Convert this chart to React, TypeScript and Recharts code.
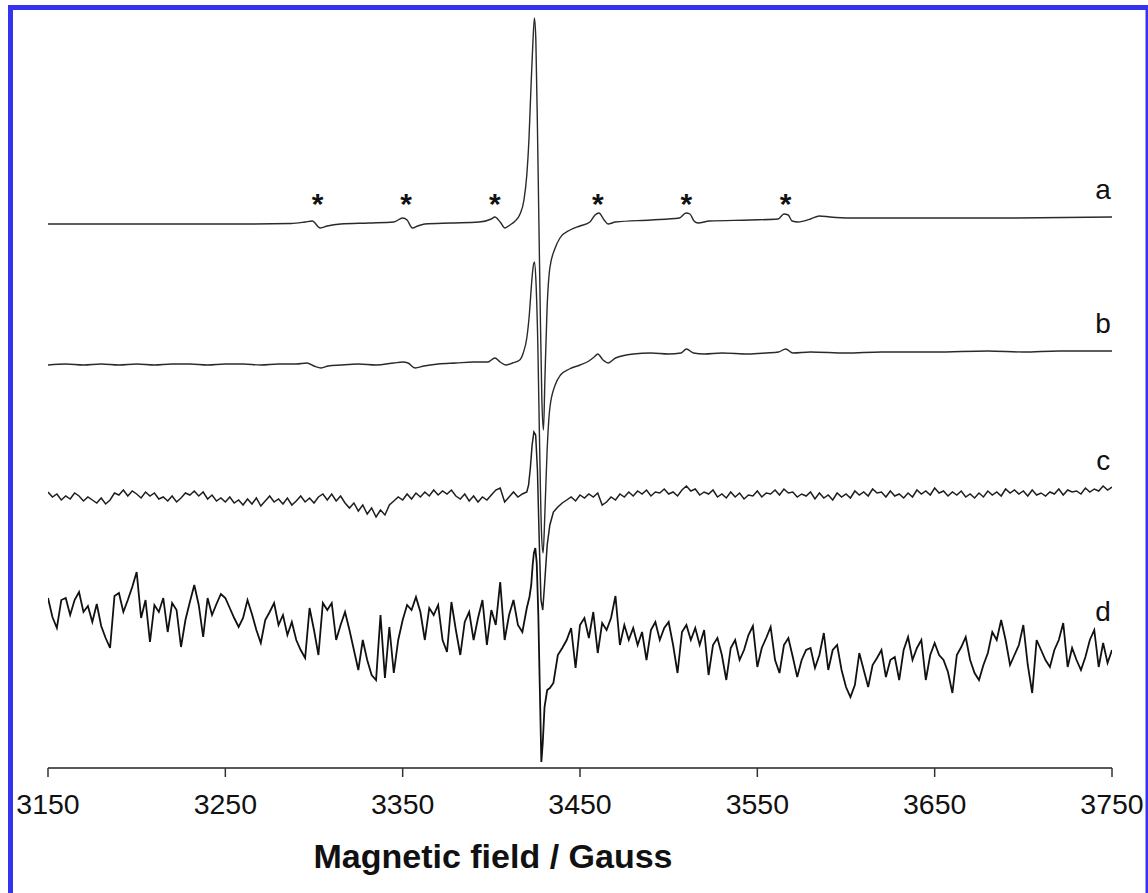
import React from 'react';
import { LineChart, Line, XAxis, YAxis, ReferenceDot } from 'recharts';

// field sampling for the noisy traces (c, d): 2.5 G steps, centre line listed separately
const FIELD_START = 3150;
const RIGHT_START = 3437.5;
const FIELD_STEP = 2.5;

// vertical stacking offsets of the four spectra
const OFFSETS = { a: 544, b: 405, c: 273, d: 143 };

// trace a: [field, intensity]
const traceA: [number, number][] = [
  [3150, 0], [3180, 0], [3210, 0], [3240, 0], [3265, 0], [3287, 0.5], [3295, 2], [3299, 3],
  [3303.5, -4], [3307.5, -2], [3315, 0], [3331, 1], [3345, 2], [3350, 6], [3352.5, 4],
  [3355.5, -4], [3358.5, -2], [3362.5, 0], [3377, 1], [3393, 2], [3400, 5], [3402, 7],
  [3405, 2], [3407.7, -4], [3410.5, -1], [3413.4, 3], [3416.2, 10], [3418.4, 24], [3420, 49],
  [3421.2, 84], [3422.3, 134], [3423.5, 184], [3424.3, 206], [3425.1, 184], [3426.2, 74],
  [3427.4, -66], [3428.5, -176], [3429.4, -206], [3430.2, -156], [3431.4, -86], [3433, -44],
  [3436, -24], [3438.7, -14], [3444.4, -6], [3450, -2], [3455.6, 2], [3458.5, 9], [3460.7, 11],
  [3463.6, 4], [3465.8, 0], [3470, 2], [3490, 4], [3506, 6], [3509.8, 11], [3512, 10],
  [3514.3, 3], [3516.6, 1], [3523, 3], [3546, 4], [3561.7, 5], [3565, 10], [3567.4, 9],
  [3569.6, 3], [3573, 2], [3580, 5], [3585, 8], [3591, 7], [3602, 6], [3630, 6], [3690, 6],
  [3750, 7],
];

// trace b: [field, intensity]
const traceB: [number, number][] = [
  [3150, -2], [3160, -1], [3170, -2], [3180, -1], [3190, -2], [3200, -1], [3210, -2],
  [3220, -1], [3230, -1], [3240, -2], [3250, -1], [3260, -1], [3270, -2], [3280, -1],
  [3290, -1], [3296, 0], [3300, -3], [3304, -5], [3308, -3], [3315, -2], [3325, -1],
  [3335, -2], [3345, 0], [3350, 1], [3353, 0], [3357, -5], [3362, -3], [3370, -1], [3380, 0],
  [3390, 1], [3398, 1], [3402, 5], [3405, 1], [3408, -2], [3412, 0], [3416, 3], [3418, 10],
  [3420, 25], [3421.5, 50], [3422.5, 75], [3423.5, 95], [3424.3, 101], [3425.2, 80],
  [3426.2, 20], [3427.2, -80], [3428.3, -170], [3429.2, -190], [3430.2, -150], [3431.4, -90],
  [3433, -45], [3436, -22], [3439, -12], [3444, -6], [3450, -2], [3455, 2], [3458, 6],
  [3460, 9], [3463, 3], [3466, 0], [3470, 5], [3480, 9], [3490, 10], [3500, 9], [3507, 10],
  [3510, 14], [3514, 10], [3520, 9], [3530, 10], [3545, 9], [3555, 10], [3562, 11], [3566, 14],
  [3570, 10], [3580, 11], [3600, 10], [3620, 11], [3650, 11], [3680, 12], [3700, 11],
  [3720, 12], [3750, 12],
];

// trace c
const cLeft = [
  3, -2, 1, -5, -1, -4, 2, -1, -6, -2,
  -5, -8, -3, -9, -5, 2, 0, 5, -1, 4,
  1, -3, 3, -1, 2, -4, -2, -6, -1, -7,
  -3, 2, 0, 4, -1, 3, -4, 0, -6, -3,
  -7, -2, -8, -5, -10, -4, -9, -3, -11, -6,
  -1, -7, -4, -9, -3, -10, -6, -1, -7, -3,
  -8, -2, 1, -5, 1, -6, -1, -8, -13, -8,
  -16, -10, -19, -13, -22, -15, -20, -10, -6, -2,
  -5, 1, -4, 2, -2, 3, -1, 5, 0, 4,
  1, 5, -1, -4, 1, -6, -1, -7, -2, -5,
  0, 5, 7, -7, -2, 3, -2, 1, 3,
];
const cCenter: [number, number][] = [
  [3421, 10], [3422, 27], [3423, 50], [3424, 63], [3425, 60], [3426, 25], [3427, -45],
  [3428, -105], [3429, -115], [3430, -90], [3431.5, -50], [3433, -30], [3435, -17],
];
const cRight = [
  -12, -8, -5, -2, -6, 0, -3, 1, -2, 2,
  -10, -7, -2, -5, 1, -2, 3, -1, 4, 1,
  5, -1, 3, 2, 6, 1, 3, -1, 5, 9,
  4, 6, 0, 3, 1, 5, -2, 1, -3, 3,
  -2, 2, -4, 0, -1, 4, -2, 2, 1, 5,
  0, 6, 2, 3, -2, 1, -1, 3, -4, 2,
  -3, 0, -5, 2, -2, 1, -3, 4, 0, 3,
  -1, 6, 2, 3, -2, 4, -1, 1, -3, 2,
  -2, 5, 1, 4, 0, 7, 2, 4, -1, 3,
  0, 4, -2, 1, -3, 2, -2, 4, 0, 3,
  -1, 6, 2, 5, 1, 4, -1, 5, 0, 2,
  -1, 3, 1, 6, 0, 5, 3, 4, 1, 7,
  3, 6, 4, 9, 5, 8,
];

// trace d
const dLeft = [
  27, 8, -3, 25, 27, 10, 25, 33, 13, 19,
  3, 21, -1, -13, -23, 29, 32, 13, 25, 38,
  53, 7, 25, -17, 20, 13, 27, -7, 22, 15,
  -22, 5, 23, 40, 20, -12, 27, 10, 21, 31,
  27, 17, 7, -2, 7, 25, 11, -5, -18, 5,
  13, 22, 0, 10, -10, 3, -15, -25, -33, 17,
  -5, -30, 22, 15, 22, -15, 0, 13, -5, -25,
  -45, -15, -35, -50, -55, 10, -53, -2, -48, -15,
  5, 20, 15, 28, 13, -15, 17, 10, 20, -15,
  -27, 23, -5, -30, 3, 13, -15, 7, 25, -20,
  15, 0, 43, -15, 10, 25, 0, -7, 17,
];
const dCenter: [number, number][] = [
  [3421.5, 28], [3422.5, 40], [3423.3, 60], [3424, 72], [3424.8, 77], [3425.6, 62],
  [3426.5, 10], [3427.3, -60], [3428.2, -137], [3429, -118], [3430, -82], [3431.5, -65],
  [3433, -63], [3435, -58],
];
const dRight = [
  -30, -23, -15, -3, -43, 0, 7, -13, 13, -28,
  2, -5, 7, 29, -20, 0, -15, -3, -20, -7,
  -35, -5, 3, -15, -3, 3, -20, -48, -7, 0,
  -15, -3, -20, -5, -50, -20, -13, -30, -55, -23,
  -15, -35, -25, -10, -1, -42, -23, -13, -2, -35,
  -48, -20, -13, -32, -52, -35, -25, -23, -43, -30,
  -8, -45, -25, -20, -45, -62, -72, -60, -28, -45,
  -62, -40, -33, -25, -52, -35, -32, -55, -25, -12,
  -35, -23, -15, -55, -30, -18, -30, -35, -47, -68,
  -30, -22, -12, -35, -48, -55, -40, -28, -7, -15,
  5, -15, -40, -30, -20, 0, -40, -68, -15, -25,
  -35, -42, -25, -15, 2, -42, -23, -35, -45, -32,
  -15, -5, -42, -18, -38, -25,
];

const xTicks = [3150, 3250, 3350, 3450, 3550, 3650, 3750];
const starFields = [3302, 3352, 3402, 3460, 3510, 3566];
const traceLabels = [
  { name: 'a', y: 579 },
  { name: 'b', y: 445 },
  { name: 'c', y: 308 },
  { name: 'd', y: 157 },
];

const FONT = '"Liberation Sans", Arial, sans-serif';

const fromPairs = (pairs: [number, number][], offset: number) =>
  pairs.map(([x, v]) => ({ x, v: v + offset }));

const fromGrid = (left: number[], center: [number, number][], right: number[], offset: number) => [
  ...left.map((v, i) => ({ x: FIELD_START + i * FIELD_STEP, v: v + offset })),
  ...fromPairs(center, offset),
  ...right.map((v, i) => ({ x: RIGHT_START + i * FIELD_STEP, v: v + offset })),
];

const dataA = fromPairs(traceA, OFFSETS.a);
const dataB = fromPairs(traceB, OFFSETS.b);
const dataC = fromGrid(cLeft, cCenter, cRight, OFFSETS.c);
const dataD = fromGrid(dLeft, dCenter, dRight, OFFSETS.d);

export default function App() {
  return (
    <div style={{ position: 'absolute', left: 0, top: 0, width: 1148, height: 893, background: '#fff', overflow: 'hidden' }}>
      <LineChart width={1148} height={893} margin={{ top: 15, right: 36, bottom: 65, left: 48 }}>
        <XAxis
          dataKey="x"
          type="number"
          domain={[3150, 3750]}
          ticks={xTicks}
          interval={0}
          allowDataOverflow
          height={60}
          tickSize={9}
          tickMargin={17}
          axisLine={{ stroke: '#222', strokeWidth: 1.4 }}
          tickLine={{ stroke: '#333', strokeWidth: 1.5 }}
          tick={{ fontSize: 28.5, fill: '#111', fontFamily: FONT }}
        />
        <YAxis type="number" domain={[0, 753]} hide allowDataOverflow />
        <Line data={dataA} dataKey="v" type="monotone" stroke="#2a2a2a" strokeWidth={1.4} dot={false} isAnimationActive={false} />
        <Line data={dataB} dataKey="v" type="monotone" stroke="#2a2a2a" strokeWidth={1.4} dot={false} isAnimationActive={false} />
        <Line data={dataC} dataKey="v" type="linear" stroke="#1e1e1e" strokeWidth={1.5} dot={false} isAnimationActive={false} />
        <Line data={dataD} dataKey="v" type="linear" stroke="#111" strokeWidth={1.8} dot={false} isAnimationActive={false} />
        {starFields.map((f) => (
          <ReferenceDot
            key={f}
            x={f}
            y={565}
            r={1}
            fill="none"
            stroke="none"
            label={{ value: '*', position: 'center', fontSize: 30, fontWeight: 'bold', fill: '#111', fontFamily: FONT }}
          />
        ))}
        {traceLabels.map((t) => (
          <ReferenceDot
            key={t.name}
            x={3745}
            y={t.y}
            r={1}
            fill="none"
            stroke="none"
            label={{ value: t.name, position: 'center', fontSize: 28, fill: '#111', fontFamily: FONT }}
          />
        ))}
      </LineChart>
      <svg width={1148} height={893} style={{ position: 'absolute', left: 0, top: 0, pointerEvents: 'none' }}>
        <rect x={10.5} y={7.5} width={1137.5} height={900} fill="none" stroke="#3434f0" strokeWidth={5} />
        <text x={493} y={868} textAnchor="middle" fontSize={34} fontWeight="bold" fill="#111" fontFamily={FONT}>
          Magnetic field / Gauss
        </text>
      </svg>
    </div>
  );
}
